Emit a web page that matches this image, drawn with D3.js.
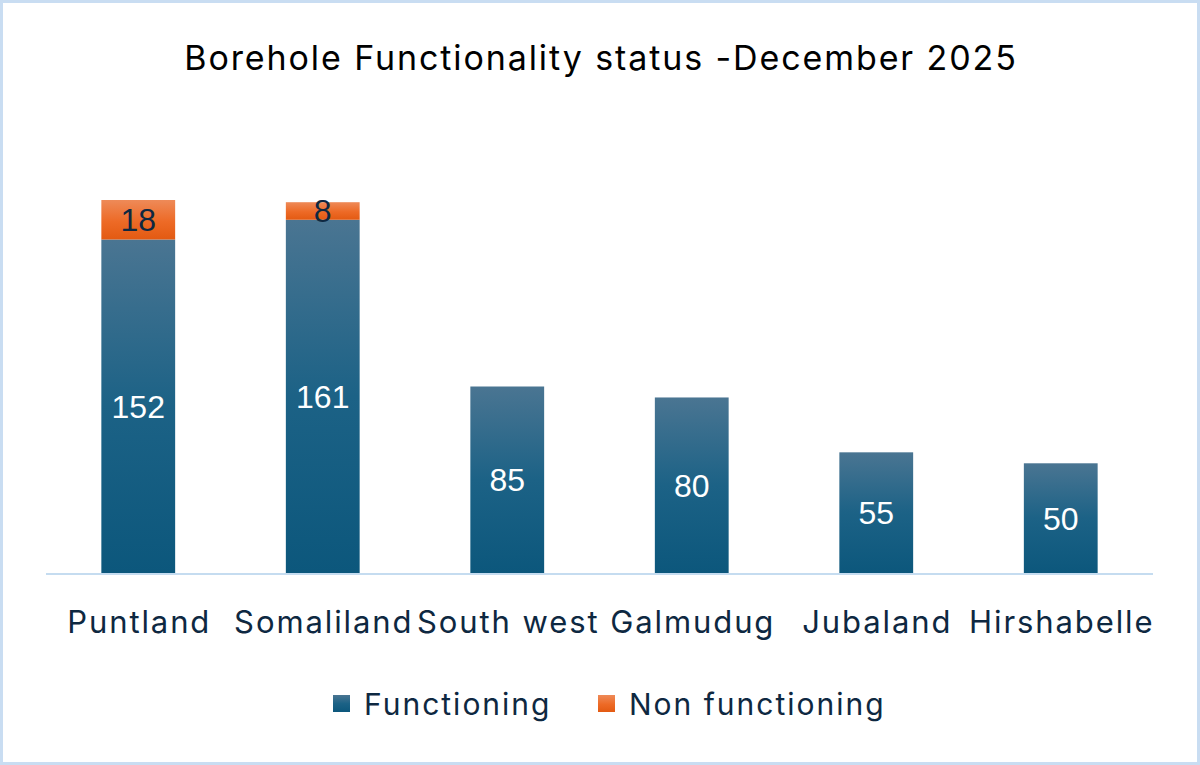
<!DOCTYPE html>
<html>
<head>
<meta charset="utf-8">
<script src="https://cdn.jsdelivr.net/npm/d3@7"></script>
<style>
  html, body { margin: 0; padding: 0; background: #fff; }
  svg { display: block; }
</style>
</head>
<body>
<svg id="chart" width="1200" height="765"></svg>
<script>
const title = "Borehole Functionality status -December 2025";
const categories = ["Puntland", "Somaliland", "South west", "Galmudug", "Jubaland", "Hirshabelle"];
const functioning = [152, 161, 85, 80, 55, 50];
const nonFunctioning = [18, 8, 0, 0, 0, 0];
const seriesNames = ["Functioning", "Non functioning"];

const W = 1200, H = 765;
const svg = d3.select("#chart");
const textFont = "Inter, 'Open Sans', sans-serif";
const numFont = "'Liberation Sans', Arial, sans-serif";
const navy = "#0e2841";

// border
svg.append("rect").attr("x", 1.5).attr("y", 1.5).attr("width", W - 3).attr("height", H - 3)
  .attr("fill", "#fff").attr("stroke", "#c9ddf2").attr("stroke-width", 3);

// gradients
const defs = svg.append("defs");
const gBlue = defs.append("linearGradient").attr("id", "gBlue").attr("x1", 0).attr("y1", 0).attr("x2", 0).attr("y2", 1);
gBlue.append("stop").attr("offset", "0%").attr("stop-color", "#4a7592");
gBlue.append("stop").attr("offset", "50%").attr("stop-color", "#1c6286");
gBlue.append("stop").attr("offset", "100%").attr("stop-color", "#0c577c");
const gOrange = defs.append("linearGradient").attr("id", "gOrange").attr("x1", 0).attr("y1", 0).attr("x2", 0).attr("y2", 1);
gOrange.append("stop").attr("offset", "0%").attr("stop-color", "#ee8a58");
gOrange.append("stop").attr("offset", "55%").attr("stop-color", "#ed6a26");
gOrange.append("stop").attr("offset", "100%").attr("stop-color", "#e35a12");

const left = 46, right = 1153, baseY = 573, topY = 200;
const x = d3.scaleBand().domain(categories).range([left, right]).paddingInner(0.6).paddingOuter(0.3);
const totals = categories.map((c, i) => functioning[i] + nonFunctioning[i]);
const y = d3.scaleLinear().domain([0, d3.max(totals)]).range([baseY, topY]);

const data = categories.map((c, i) => ({ cat: c, f: functioning[i], n: nonFunctioning[i] }));

// title
svg.append("text").attr("x", 601).attr("y", 70).attr("text-anchor", "middle")
  .attr("font-family", textFont).attr("font-size", 34).attr("fill", "#000")
  .attr("letter-spacing", "1.9px")
  .text(title);

// bars functioning
const g = svg.append("g");
g.selectAll("rect.f").data(data).join("rect").attr("class", "f")
  .attr("x", d => x(d.cat)).attr("width", x.bandwidth())
  .attr("y", d => y(d.f)).attr("height", d => y(0) - y(d.f))
  .attr("fill", "url(#gBlue)");
g.selectAll("rect.n").data(data.filter(d => d.n > 0)).join("rect").attr("class", "n")
  .attr("x", d => x(d.cat)).attr("width", x.bandwidth())
  .attr("y", d => y(d.f + d.n)).attr("height", d => y(d.f) - y(d.f + d.n))
  .attr("fill", "url(#gOrange)");

// baseline
svg.append("line").attr("x1", left).attr("x2", right).attr("y1", baseY + 1).attr("y2", baseY + 1)
  .attr("stroke", "#c5dcf0").attr("stroke-width", 2);

// labels
g.selectAll("text.f").data(data).join("text").attr("class", "f")
  .attr("x", d => x(d.cat) + x.bandwidth() / 2)
  .attr("y", d => (y(d.f) + y(0)) / 2)
  .attr("dy", "0.36em").attr("text-anchor", "middle")
  .attr("font-family", numFont).attr("font-size", 32).attr("fill", "#fff")
  .text(d => d.f);
g.selectAll("text.n").data(data.filter(d => d.n > 0)).join("text").attr("class", "n")
  .attr("x", d => x(d.cat) + x.bandwidth() / 2)
  .attr("y", d => (y(d.f + d.n) + y(d.f)) / 2)
  .attr("dy", "0.36em").attr("text-anchor", "middle")
  .attr("font-family", numFont).attr("font-size", 32).attr("fill", navy)
  .text(d => d.n);

// x axis
const xAxis = svg.append("g").attr("transform", `translate(1,${baseY})`)
  .call(d3.axisBottom(x).tickSize(0).tickPadding(60));
xAxis.select(".domain").remove();
xAxis.selectAll("text").attr("font-family", textFont).attr("font-size", 31)
  .attr("fill", navy).attr("letter-spacing", "1.9px").attr("dy", "0");

// legend
const legend = svg.append("g");
const legItems = [
  { name: seriesNames[0], fill: "url(#gBlue)", x: 333 },
  { name: seriesNames[1], fill: "url(#gOrange)", x: 598 }
];
const li = legend.selectAll("g").data(legItems).join("g").attr("transform", d => `translate(${d.x},695)`);
li.append("rect").attr("width", 17).attr("height", 17).attr("fill", d => d.fill);
li.append("text").attr("x", 31).attr("y", 20).attr("font-family", textFont).attr("font-size", 30)
  .attr("fill", navy).attr("letter-spacing", "2px").text(d => d.name);
</script>
</body>
</html>
